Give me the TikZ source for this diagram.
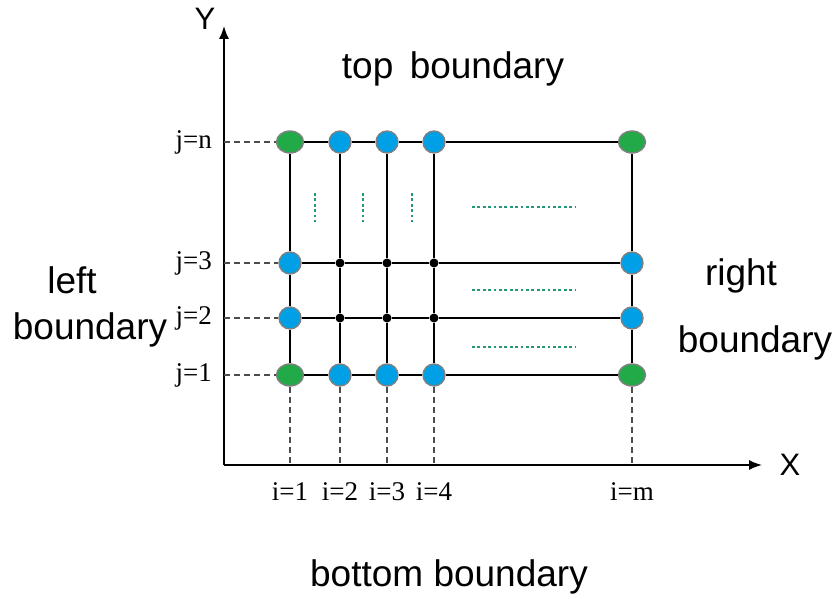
\documentclass[tikz,border=0pt]{standalone}
\usepackage{fontspec}
\setmainfont{Liberation Serif}
\newfontfamily\labelsans{Liberation Sans}
\usepackage{xcolor}
\definecolor{gridgreen}{RGB}{34,170,72}
\definecolor{gridblue}{RGB}{0,160,230}
\definecolor{dotteal}{RGB}{40,150,120}
\usetikzlibrary{arrows.meta, positioning, shapes.geometric}

\tikzset{
  cornernode/.style={ellipse, draw=gray, line width=1.4pt, fill=gridgreen, minimum width=27pt, minimum height=22pt, inner sep=0pt},
  edgenode/.style={circle, draw=gray, line width=1.4pt, fill=gridblue, minimum size=22pt, inner sep=0pt},
  innernode/.style={circle, fill=black, minimum size=9pt, inner sep=0pt},
  gridline/.style={line width=1.5pt, black},
  guideline/.style={line width=1.4pt, gray!60!black, dash pattern=on 6pt off 4pt},
  morepts/.style={dotteal, line width=2.8pt, dash pattern=on 2.8pt off 2.6pt},
  idxlabel/.style={font=\fontsize{27}{29}\selectfont},
  bdlabel/.style={font=\labelsans\fontsize{37}{40}\selectfont}
}

\begin{document}
\begin{tikzpicture}[x=1pt, y=-1pt]
  \useasboundingbox (0,0) rectangle (836,599);

  % Axes
  \coordinate (origin) at (224,465);
  \coordinate (xend) at (762,465);
  \coordinate (yend) at (224,26);
  \draw[line width=1.5pt, -{Latex[length=13pt, width=10pt]}] (origin) -- (xend);
  \draw[line width=1.5pt, -{Latex[length=13pt, width=10pt]}] (origin) -- (yend);
  \node[font=\labelsans\fontsize{31}{33}\selectfont] (ylab) at (205,19) {Y};
  \node[font=\labelsans\fontsize{31}{33}\selectfont] (xlab) at (790,465) {X};

  % --- Grid points ---
  % row j=1
  \node[cornernode] (p11) at (290,375) {};
  \node[edgenode]   (p21) at (340,375) {};
  \node[edgenode]   (p31) at (387,375) {};
  \node[edgenode]   (p41) at (434,375) {};
  \node[cornernode] (pm1) at (632,375) {};
  % row j=2
  \node[edgenode]   (p12) at (290,318) {};
  \node[innernode]  (p22) at (340,318) {};
  \node[innernode]  (p32) at (387,318) {};
  \node[innernode]  (p42) at (434,318) {};
  \node[edgenode]   (pm2) at (632,318) {};
  % row j=3
  \node[edgenode]   (p13) at (290,263) {};
  \node[innernode]  (p23) at (340,263) {};
  \node[innernode]  (p33) at (387,263) {};
  \node[innernode]  (p43) at (434,263) {};
  \node[edgenode]   (pm3) at (632,263) {};
  % row j=n
  \node[cornernode] (p1n) at (290,142) {};
  \node[edgenode]   (p2n) at (340,142) {};
  \node[edgenode]   (p3n) at (387,142) {};
  \node[edgenode]   (p4n) at (434,142) {};
  \node[cornernode] (pmn) at (632,142) {};

  % --- Grid lines ---
  \foreach \r in {1,2,3,n} {
    \draw[gridline] (p1\r) -- (p2\r);
    \draw[gridline] (p2\r) -- (p3\r);
    \draw[gridline] (p3\r) -- (p4\r);
    \draw[gridline] (p4\r) -- (pm\r);
  }
  \foreach \c in {1,2,3,4,m} {
    \draw[gridline] (p\c1) -- (p\c2);
    \draw[gridline] (p\c2) -- (p\c3);
    \draw[gridline] (p\c3) -- (p\c n);
  }

  % --- Dashed guides to the axes ---
  \foreach \r/\yy in {1/375,2/318,3/263,n/142} {
    \coordinate (yax\r) at (224,\yy);
    \draw[guideline] (yax\r) -- (p1\r);
    \node[idxlabel, anchor=east, inner sep=0pt] (jlab\r) at (212,\yy) {j=\r};
  }
  \foreach \c/\xx in {1/290,2/340,3/387,4/434,m/632} {
    \coordinate (xax\c) at (\xx,465);
    \draw[guideline] (p\c1) -- (xax\c);
    \node[idxlabel] (ilab\c) at (\xx,492) {i=\c};
  }

  % --- Omitted points ---
  \draw[morepts] (315,193) -- (315,222);
  \draw[morepts] (363,193) -- (363,222);
  \draw[morepts] (412,193) -- (412,222);
  \draw[morepts] (472,207) -- (576,207);
  \draw[morepts] (472,290) -- (576,290);
  \draw[morepts] (472,347) -- (576,347);

  % --- Boundary labels ---
  \node[bdlabel] (topbd) at (453,69) {top\, boundary};
  \node[bdlabel] (leftbd1) at (72,280) {left};
  \node[bdlabel] (leftbd2) at (90,330) {boundary};
  \node[bdlabel] (rightbd1) at (741,276) {right};
  \node[bdlabel] (rightbd2) at (755,343) {boundary};
  \node[bdlabel] (bottombd) at (449,577) {bottom boundary};
\end{tikzpicture}
\end{document}
